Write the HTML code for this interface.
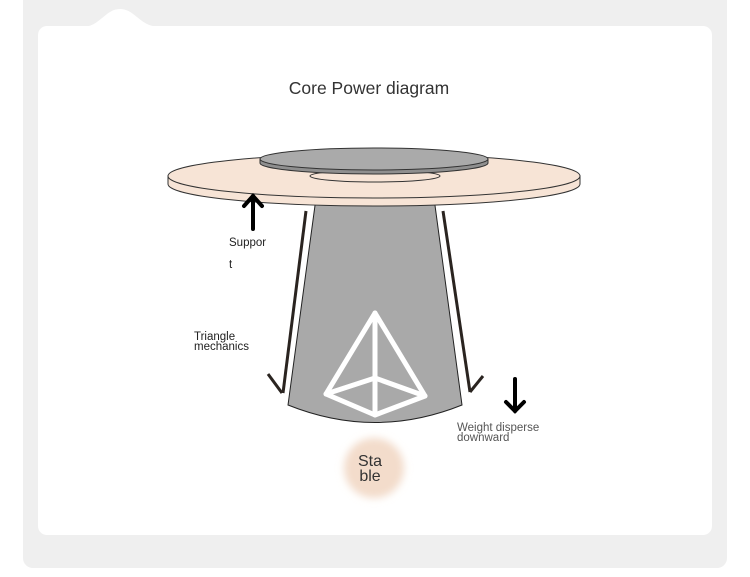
<!DOCTYPE html>
<html><head><meta charset="utf-8"><style>
html,body{margin:0;padding:0;background:#fff;}
svg{display:block;font-family:"Liberation Sans",sans-serif;}
</style></head><body>
<svg width="750" height="577" viewBox="0 0 750 577" xmlns="http://www.w3.org/2000/svg">
<defs>
<filter id="bl" x="-50%" y="-50%" width="200%" height="200%"><feGaussianBlur stdDeviation="4"/></filter>
</defs>
<rect x="0" y="0" width="750" height="577" fill="#fff"/>
<rect x="23" y="-10" width="704" height="578" rx="10" fill="#efefef"/>
<rect x="38" y="26" width="674" height="509" rx="9" fill="#fff"/>
<path d="M82 27 C100 27 105 9 120 9 C135 9 140 27 160 27 Z" fill="#fff"/>
<text x="369" y="94" font-size="17.5" fill="#333" text-anchor="middle">Core Power diagram</text>
<!-- pedestal -->
<path d="M316 198 L434 198 L462 405 Q375 440 288 405 Z" fill="#a9a9a9" stroke="#222" stroke-width="1"/>
<!-- tabletop -->
<path d="M168 176 L168 184 A206 22 0 0 0 580 184 L580 176 Z" fill="#f7e4d6" stroke="#333" stroke-width="1"/>
<ellipse cx="374" cy="176" rx="206" ry="22" fill="#f7e4d6" stroke="#333" stroke-width="1"/>
<ellipse cx="375" cy="176" rx="65" ry="6" fill="#f7e4d6" stroke="#333" stroke-width="1"/>
<path d="M260 159 L260 163 A114 11 0 0 0 488 163 L488 159 Z" fill="#8f8f8f" stroke="#333" stroke-width="1"/>
<ellipse cx="374" cy="159" rx="114" ry="11" fill="#aaa" stroke="#333" stroke-width="1"/>
<!-- side arrows -->
<g stroke="#2a2420" stroke-width="3" fill="none">
<line x1="306" y1="211" x2="283" y2="393"/>
<line x1="268" y1="374" x2="282" y2="393"/>
<line x1="443" y1="211" x2="470" y2="392"/>
<line x1="483" y1="376" x2="470" y2="392"/>
</g>
<!-- support arrow -->
<g stroke="#000" stroke-width="4" fill="none" stroke-linecap="round">
<line x1="253" y1="229" x2="253" y2="196"/>
<polyline points="244,206 253,196 262,206"/>
<line x1="515" y1="379" x2="515" y2="411"/>
<polyline points="506,402 515,411 524,402"/>
</g>
<!-- pyramid -->
<g stroke="#fff" stroke-width="5" fill="none" stroke-linejoin="round" stroke-linecap="round">
<polyline points="326,394 375,313 425,396 375,415 326,394"/>
<line x1="375" y1="313" x2="375" y2="415"/>
<polyline points="326,394 375,378 425,396"/>
</g>
<!-- labels -->
<text x="229" y="246" font-size="11.5" fill="#222">Suppor</text>
<text x="229" y="268" font-size="11.5" fill="#222">t</text>
<text x="194" y="340" font-size="11.5" fill="#222">Triangle</text>
<text x="194" y="350" font-size="11.5" fill="#222">mechanics</text>
<text x="457" y="431" font-size="11.5" fill="#555">Weight disperse</text>
<text x="457" y="441" font-size="11.5" fill="#555">downward</text>
<circle cx="374" cy="468" r="30" fill="#f3dccb" filter="url(#bl)"/>
<text x="370" y="466" font-size="16" fill="#333" text-anchor="middle">Sta</text>
<text x="370" y="481" font-size="16" fill="#333" text-anchor="middle">ble</text>
</svg>
</body></html>
